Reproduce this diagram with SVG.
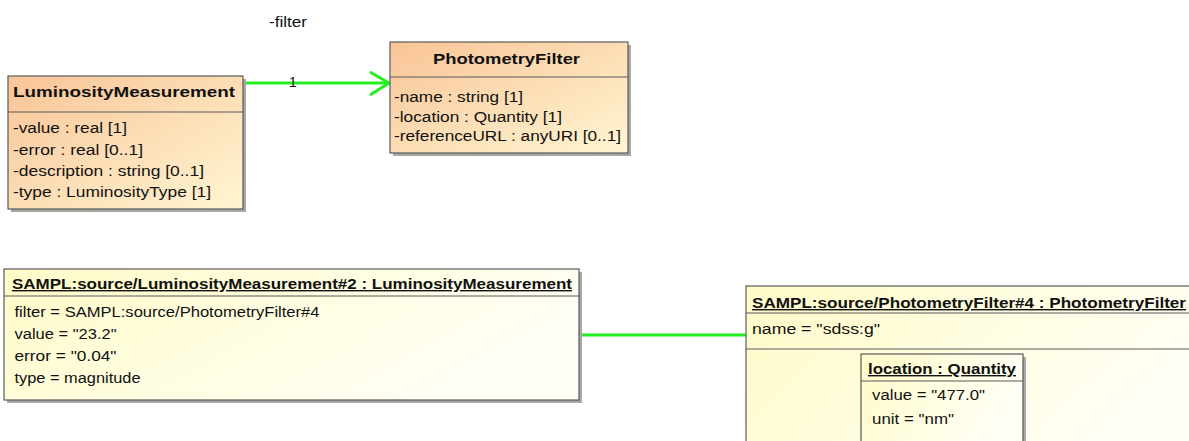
<svg xmlns="http://www.w3.org/2000/svg" width="1189" height="441" viewBox="0 0 1189 441">
  <defs>
    <linearGradient id="clsGrad" x1="0" y1="0" x2="1" y2="1">
      <stop offset="0" stop-color="#F9C497"/>
      <stop offset="1" stop-color="#FFF6D2"/>
    </linearGradient>
    <linearGradient id="objGrad" x1="0" y1="0" x2="1" y2="0.4">
      <stop offset="0" stop-color="#FFFBC8"/>
      <stop offset="1" stop-color="#FFFFF6"/>
    </linearGradient>
  </defs>
  <style>
    .shadow { fill: #A8A8A8; }
    .box { stroke: #5A5A5A; stroke-width: 1.2; }
    .cls { fill: url(#clsGrad); }
    .obj { fill: url(#objGrad); }
    .sep { stroke: #5A5A5A; stroke-width: 1.2; }
    text { font-family: "Liberation Sans", Arial, sans-serif; fill: #111; }
    .title { font-weight: bold; font-size: 15px; }
    .attr { font-size: 14px; }
    .otitle { font-weight: bold; font-size: 14px; text-decoration: underline; }
    .conn { stroke: #22EE22; stroke-width: 3; fill: none; }
  </style>

  <g id="connectors">
    <line class="conn" x1="243" y1="83" x2="389" y2="83"/>
    <polyline class="conn" points="370,72 389,83 370,95"/>
    <text class="attr" x="269" y="27" textLength="38" lengthAdjust="spacingAndGlyphs">-filter</text>
    <text class="attr" x="289" y="87">1</text>
    <line class="conn" x1="579" y1="335" x2="746" y2="335"/>
  </g>

  <g id="LuminosityMeasurement">
    <rect class="shadow" x="11" y="79" width="235" height="133"/>
    <rect class="box cls" x="8" y="76" width="235" height="133"/>
    <line class="sep" x1="8" y1="112" x2="243" y2="112"/>
    <text class="title" x="13" y="97" textLength="222" lengthAdjust="spacingAndGlyphs">LuminosityMeasurement</text>
    <text class="attr" x="13" y="133" textLength="114" lengthAdjust="spacingAndGlyphs">-value : real [1]</text>
    <text class="attr" x="13" y="155" textLength="130" lengthAdjust="spacingAndGlyphs">-error : real [0..1]</text>
    <text class="attr" x="13" y="176" textLength="191" lengthAdjust="spacingAndGlyphs">-description : string [0..1]</text>
    <text class="attr" x="13" y="197" textLength="198" lengthAdjust="spacingAndGlyphs">-type : LuminosityType [1]</text>
  </g>

  <g id="PhotometryFilter">
    <rect class="shadow" x="393" y="45" width="238" height="111"/>
    <rect class="box cls" x="390" y="42" width="238" height="111"/>
    <line class="sep" x1="390" y1="77" x2="628" y2="77"/>
    <text class="title" x="433" y="64" textLength="147" lengthAdjust="spacingAndGlyphs">PhotometryFilter</text>
    <text class="attr" x="394" y="102" textLength="129" lengthAdjust="spacingAndGlyphs">-name : string [1]</text>
    <text class="attr" x="394" y="122" textLength="168" lengthAdjust="spacingAndGlyphs">-location : Quantity [1]</text>
    <text class="attr" x="394" y="141" textLength="227" lengthAdjust="spacingAndGlyphs">-referenceURL : anyURI [0..1]</text>
  </g>

  <g id="LuminosityMeasurementInstance">
    <rect class="shadow" x="7" y="272" width="575" height="131"/>
    <rect class="box obj" x="4" y="269" width="575" height="131"/>
    <line class="sep" x1="4" y1="296" x2="579" y2="296"/>
    <text class="otitle" x="12" y="289" textLength="560" lengthAdjust="spacingAndGlyphs">SAMPL:source/LuminosityMeasurement#2 : LuminosityMeasurement</text>
    <text class="attr" x="14.5" y="317" textLength="305" lengthAdjust="spacingAndGlyphs">filter = SAMPL:source/PhotometryFilter#4</text>
    <text class="attr" x="14.5" y="339" textLength="102" lengthAdjust="spacingAndGlyphs">value = "23.2"</text>
    <text class="attr" x="14.5" y="361" textLength="102" lengthAdjust="spacingAndGlyphs">error = "0.04"</text>
    <text class="attr" x="14.5" y="383" textLength="126" lengthAdjust="spacingAndGlyphs">type = magnitude</text>
  </g>

  <g id="PhotometryFilterInstance">
    <rect class="box obj" x="746" y="286" width="460" height="170"/>
    <line class="sep" x1="746" y1="313" x2="1189" y2="313"/>
    <line class="sep" x1="746" y1="349" x2="1189" y2="349"/>
    <text class="otitle" x="752" y="308" textLength="434" lengthAdjust="spacingAndGlyphs">SAMPL:source/PhotometryFilter#4 : PhotometryFilter</text>
    <text class="attr" x="752" y="334" textLength="128" lengthAdjust="spacingAndGlyphs">name = "sdss:g"</text>
    <g id="locationQuantity">
      <rect class="shadow" x="864" y="357" width="162" height="100"/>
      <rect class="box obj" x="861" y="354" width="162" height="100"/>
      <line class="sep" x1="861" y1="381" x2="1023" y2="381"/>
      <text class="otitle" x="868" y="374" textLength="148" lengthAdjust="spacingAndGlyphs">location : Quantity</text>
      <text class="attr" x="872" y="400" textLength="113" lengthAdjust="spacingAndGlyphs">value = "477.0"</text>
      <text class="attr" x="872" y="424" textLength="82" lengthAdjust="spacingAndGlyphs">unit = "nm"</text>
    </g>
  </g>
</svg>
